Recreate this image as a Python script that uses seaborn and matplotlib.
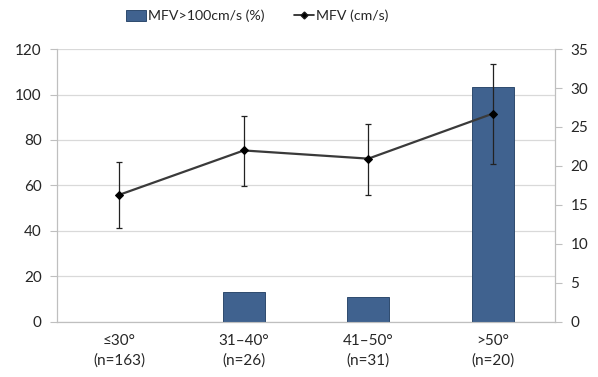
import numpy as np
import pandas as pd
import matplotlib
matplotlib.use("Agg")
import matplotlib.pyplot as plt
import seaborn as sns
from matplotlib.patches import Patch
from matplotlib.lines import Line2D

# values
groups = ["≤30°\n(n=163)", "31–40°\n(n=26)", "41–50°\n(n=31)", ">50°\n(n=20)"]
pct_over_100 = [0.0, 3.8, 3.2, 30.1]      # right axis, %
mfv_mean = [55.9, 75.4, 71.8, 91.6]       # left axis, cm/s
mfv_low = [41.3, 59.9, 55.9, 69.5]
mfv_high = [70.4, 90.7, 87.2, 113.4]

df = pd.DataFrame({"group": groups, "pct": pct_over_100, "mfv": mfv_mean})
err = np.array([np.array(mfv_mean) - np.array(mfv_low),
                np.array(mfv_high) - np.array(mfv_mean)])

sns.set_theme(style="white")
plt.rcParams["font.family"] = ["Lato", "DejaVu Sans"]
text_col = "#262626"
grid_col = "#D9D9D9"
spine_col = "#BFBFBF"
bar_col = "#40628F"
fs = 11

fig = plt.figure(figsize=(5.98, 3.77), dpi=100)
ax = fig.add_axes([0.0953, 0.146, 0.833, 0.724])
ax2 = ax.twinx()
ax_line = ax.twinx()

# grid layer
ax.set_ylim(0, 120)
ax.set_yticks(range(0, 121, 20))
ax.yaxis.grid(True, color=grid_col, linewidth=0.9)
ax.set_axisbelow(True)

# bars on right axis
sns.barplot(data=df, x="group", y="pct", ax=ax2, color=bar_col, width=0.335,
            saturation=1, edgecolor="#2E4A6E", linewidth=0.7)
ax2.set_ylim(0, 35)
ax2.set_yticks(range(0, 36, 5))
ax2.set_ylabel("")
ax2.set_xlabel("")

# line on left scale, on top
ax_line.errorbar(range(len(groups)), mfv_mean, yerr=err, fmt="none",
                 ecolor="#222222", elinewidth=0.9, capsize=2.5, capthick=0.9)
sns.lineplot(x=list(range(len(groups))), y=mfv_mean, ax=ax_line, color="#3A3A3A",
             linewidth=1.6, marker="D", markersize=4.5, markerfacecolor="black",
             markeredgecolor="black")
ax_line.set_ylim(0, 120)
ax_line.set_yticks([])
for s in ax_line.spines.values():
    s.set_visible(False)

ax.set_zorder(1)
ax2.set_zorder(2)
ax_line.set_zorder(3)
ax2.patch.set_visible(False)
ax_line.patch.set_visible(False)

for a in (ax, ax2, ax_line):
    a.set_xlim(-0.5, len(groups) - 0.5)

ax.set_xticks(range(len(groups)))
ax.set_xticklabels(groups, fontsize=fs, color=text_col, linespacing=1.45)
ax.set_xticks(np.arange(-0.5, len(groups), 1.0), minor=True)
ax.tick_params(axis="x", which="major", length=0, pad=9)
ax.tick_params(axis="x", which="minor", length=5, color=spine_col, width=0.8)
ax.tick_params(axis="y", length=5, color=spine_col, width=0.8, labelsize=fs,
               labelcolor=text_col, left=True, pad=6)
ax2.tick_params(axis="y", length=5, color=spine_col, width=0.8, labelsize=fs,
                labelcolor=text_col, right=True, pad=6)
ax2.tick_params(axis="x", bottom=False, labelbottom=False)
ax_line.tick_params(axis="x", bottom=False, labelbottom=False)

for a in (ax, ax2):
    a.spines["top"].set_visible(False)
    for k in ("left", "right", "bottom"):
        a.spines[k].set_color(spine_col)
        a.spines[k].set_linewidth(0.8)

handles = [Patch(facecolor=bar_col, edgecolor="#2E4A6E", linewidth=0.7),
           Line2D([0], [0], color="#1A1A1A", linewidth=1.2, marker="D",
                  markersize=3.5, markerfacecolor="black")]
fig.legend(handles, ["MFV>100cm/s (%)", "MFV (cm/s)"], loc="center",
           bbox_to_anchor=(0.43, 0.958), ncol=2, frameon=False, fontsize=10.2,
           handlelength=1.4, handleheight=0.8, handletextpad=0.15,
           columnspacing=2.1, labelcolor=text_col)

fig.savefig("out.png", dpi=100)
